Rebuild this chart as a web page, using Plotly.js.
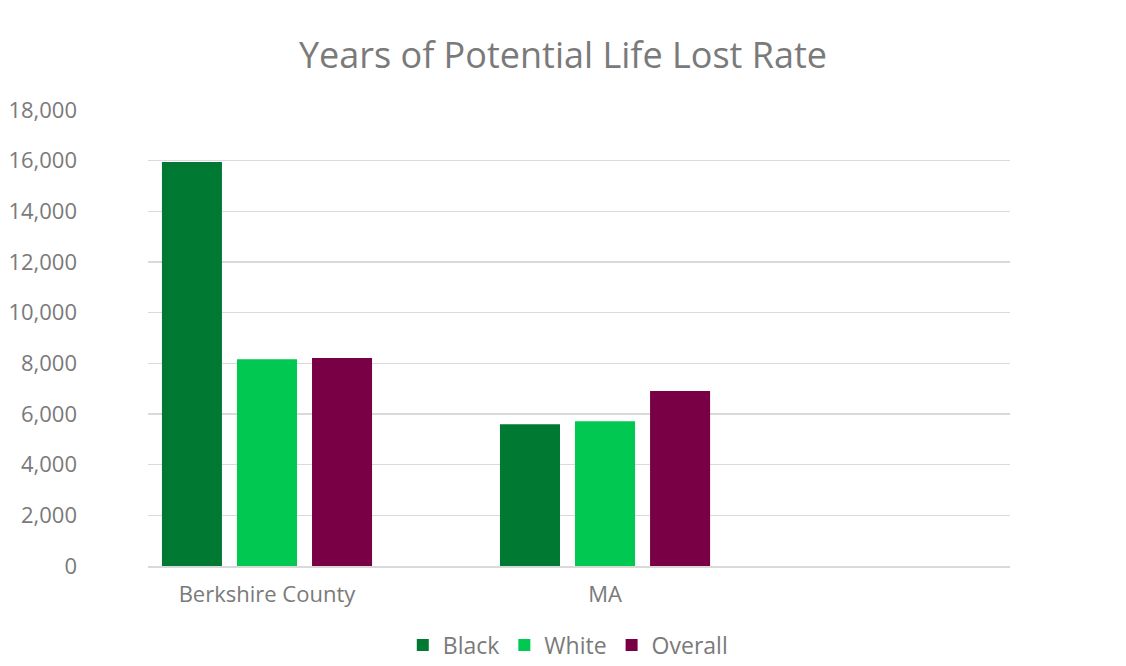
<!DOCTYPE html>
<html>
<head>
<meta charset="utf-8">
<script src="https://cdn.plot.ly/plotly-3.0.1.min.js"></script>
<style>html,body{margin:0;padding:0;background:#fff;}#chart{width:1126px;height:666px;}</style>
</head>
<body>
<div id="chart"></div>
<script>
const categories = ['Berkshire County', 'MA'];
const blackValues = [15950, 5600];
const whiteValues = [8160, 5710];
const overallValues = [8210, 6910];
const seriesNames = ['Black', 'White', 'Overall'];
const tickValues = [0, 2000, 4000, 6000, 8000, 10000, 12000, 14000, 16000, 18000];

const colors = ['#007A33', '#00C850', '#7A0046'];
const font = '"Open Sans", "Noto Sans", sans-serif';

const traces = [blackValues, whiteValues, overallValues].map((vals, i) => ({
  type: 'bar',
  name: seriesNames[i],
  x: categories,
  y: vals,
  marker: {color: colors[i]},
  hoverinfo: 'x+y+name'
}));

const layout = {
  width: 1126,
  height: 666,
  paper_bgcolor: '#ffffff',
  plot_bgcolor: '#ffffff',
  margin: {l: 148, r: 116, t: 110, b: 100, autoexpand: false},
  title: {
    text: 'Years of Potential Life Lost Rate',
    font: {family: font, size: 36, color: '#7a7a7a'},
    x: 0.5, xref: 'container', xanchor: 'center',
    y: 0.917, yref: 'container', yanchor: 'middle'
  },
  barmode: 'group',
  bargap: 0.334,
  bargroupgap: 0.2,
  xaxis: {
    type: 'category',
    range: [-0.352, 2.198],
    automargin: false,
    showgrid: false,
    showline: true,
    linecolor: '#d9d9d9',
    linewidth: 1.5,
    ticks: '',
    ticklabelstandoff: 8,
    tickfont: {family: font, size: 22, color: '#7a7a7a'},
    zeroline: false
  },
  yaxis: {
    range: [0, 18000],
    automargin: false,
    tickvals: tickValues,
    tickformat: ',d',
    showgrid: true,
    gridcolor: '#dadada',
    gridwidth: 1.5,
    zeroline: false,
    showline: false,
    ticks: '',
    ticklabelstandoff: 70,
    tickfont: {family: font, size: 22, color: '#7a7a7a'}
  },
  showlegend: true,
  legend: {
    orientation: 'h',
    xref: 'paper', yref: 'container',
    x: 0.487, xanchor: 'center',
    y: 0.0315, yanchor: 'middle',
    font: {family: font, size: 23, color: '#7a7a7a'},
    itemwidth: 30,
    traceorder: 'normal'
  }
};

Plotly.newPlot('chart', traces, layout, {displayModeBar: false, staticPlot: true});
</script>
</body>
</html>
